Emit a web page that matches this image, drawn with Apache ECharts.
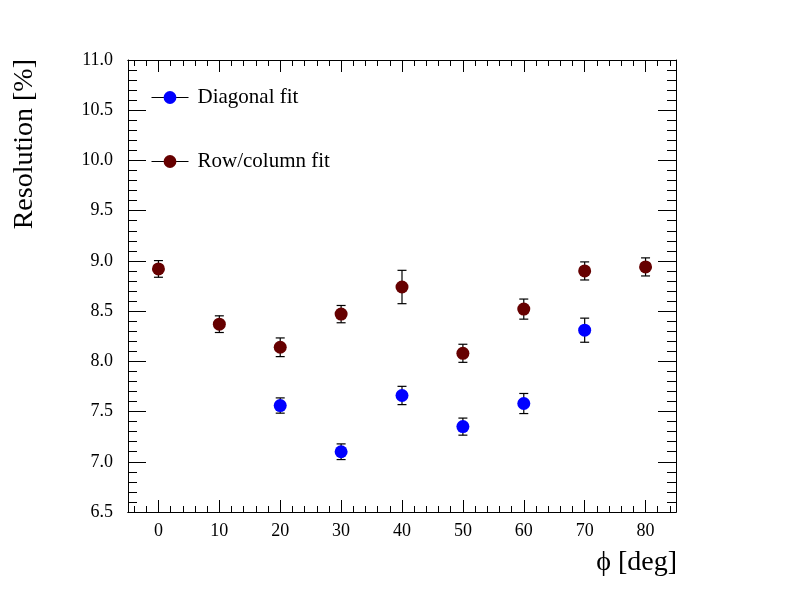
<!DOCTYPE html>
<html>
<head>
<meta charset="utf-8">
<script src="https://cdn.jsdelivr.net/npm/echarts@6/dist/echarts.min.js"></script>
<style>
html,body{margin:0;padding:0;background:#fff;}
#chart{width:796px;height:602px;}
</style>
</head>
<body>
<div id="chart"></div>
<script>
// Data
const phiDiagonal = [20, 30, 40, 50, 60, 70];
const diagonalValues = [7.56, 7.10, 7.66, 7.35, 7.58, 8.31];
const diagonalErrors = [0.076, 0.078, 0.091, 0.085, 0.10, 0.12];

const phiRowColumn = [0, 10, 20, 30, 40, 50, 60, 70, 80];
const rowColumnValues = [8.92, 8.37, 8.14, 8.47, 8.74, 8.08, 8.52, 8.90, 8.94];
const rowColumnErrors = [0.083, 0.083, 0.093, 0.086, 0.166, 0.09, 0.10, 0.09, 0.09];

const xMajorTicks = [0, 10, 20, 30, 40, 50, 60, 70, 80];
const xMinorTicks = [-4, -2, 2, 4, 6, 8, 12, 14, 16, 18, 22, 24, 26, 28, 32, 34, 36, 38,
  42, 44, 46, 48, 52, 54, 56, 58, 62, 64, 66, 68, 72, 74, 76, 78, 82, 84];

const seriesNames = ['Diagonal fit', 'Row/column fit'];
const xTitle = 'ϕ [deg]';
const yTitle = 'Resolution [%]';

const FONT = 'Liberation Serif';
const chart = echarts.init(document.getElementById('chart'), null, {renderer: 'canvas'});

function pairs(xs, ys) { return xs.map((x, i) => [x, ys[i]]); }
function errs(xs, ys, es) { return xs.map((x, i) => [x, ys[i] - es[i], ys[i] + es[i]]); }

function errorRender(params, api) {
  const x = api.value(0);
  const lo = api.coord([x, api.value(1)]);
  const hi = api.coord([x, api.value(2)]);
  const cw = 4.5;
  const st = {stroke: '#000', lineWidth: 1.2};
  return {
    type: 'group',
    children: [
      {type: 'line', shape: {x1: lo[0], y1: lo[1], x2: hi[0], y2: hi[1]}, style: st},
      {type: 'line', shape: {x1: lo[0] - cw, y1: lo[1], x2: lo[0] + cw, y2: lo[1]}, style: st},
      {type: 'line', shape: {x1: hi[0] - cw, y1: hi[1], x2: hi[0] + cw, y2: hi[1]}, style: st}
    ]
  };
}

const axisLineStyle = {show: true, onZero: false, lineStyle: {color: '#000', width: 1}};
function xAx(position, ticks, len, labels) {
  return {
    type: 'value', min: -5, max: 85, position: position,
    axisLine: axisLineStyle,
    splitLine: {show: false},
    axisTick: {show: true, inside: true, length: len, customValues: ticks, lineStyle: {color: '#000', width: 1}},
    axisLabel: labels ? {show: true, customValues: ticks, margin: 10, color: '#000', fontFamily: FONT, fontSize: 18} : {show: false, customValues: ticks}
  };
}
function yAx(position, labels) {
  return {
    type: 'value', min: 6.5, max: 11.0, interval: 0.5, position: position,
    axisLine: axisLineStyle,
    splitLine: {show: false},
    minorSplitLine: {show: false},
    axisTick: {show: true, inside: true, length: 18, lineStyle: {color: '#000', width: 1}},
    minorTick: {show: true, splitNumber: 5, length: 9, lineStyle: {color: '#000', width: 1}},
    axisLabel: labels ? {show: true, margin: 15, color: '#000', fontFamily: FONT, fontSize: 18,
      formatter: v => v.toFixed(1)} : {show: false}
  };
}

const option = {
  backgroundColor: '#fff',
  animation: false,
  grid: {left: 128, right: 120, top: 60, bottom: 90, containLabel: false},
  xAxis: [
    xAx('bottom', xMajorTicks, 12, true),
    xAx('bottom', xMinorTicks, 6, false),
    xAx('top', xMajorTicks, 12, false),
    xAx('top', xMinorTicks, 6, false)
  ],
  yAxis: [yAx('left', true), yAx('right', false)],
  legend: {
    orient: 'vertical', left: 146, top: 82,
    itemWidth: 37, itemHeight: 16, itemGap: 43,
    data: seriesNames,
    textStyle: {color: '#000', fontFamily: FONT, fontSize: 21, padding: [0, 0, 0, 4]},
    lineStyle: {color: '#000', width: 1, opacity: 1}
  },
  graphic: [
    {type: 'text', x: 677, y: 563, style: {text: xTitle, font: '28px "Liberation Serif"', fill: '#000', textAlign: 'right', textVerticalAlign: 'middle'}},
    {type: 'text', x: 24.5, y: 59, rotation: Math.PI / 2, style: {text: yTitle, font: '28px "Liberation Serif"', fill: '#000', textAlign: 'right', textVerticalAlign: 'middle'}}
  ],
  series: [
    {type: 'custom', xAxisIndex: 0, yAxisIndex: 0, renderItem: errorRender, data: errs(phiDiagonal, diagonalValues, diagonalErrors), z: 1, silent: true},
    {type: 'custom', xAxisIndex: 0, yAxisIndex: 0, renderItem: errorRender, data: errs(phiRowColumn, rowColumnValues, rowColumnErrors), z: 1, silent: true},
    {name: seriesNames[0], type: 'line', xAxisIndex: 0, yAxisIndex: 0, data: pairs(phiDiagonal, diagonalValues),
      symbol: 'circle', symbolSize: 13, itemStyle: {color: '#0000ff'}, lineStyle: {width: 0, opacity: 0}, z: 3},
    {name: seriesNames[1], type: 'line', xAxisIndex: 0, yAxisIndex: 0, data: pairs(phiRowColumn, rowColumnValues),
      symbol: 'circle', symbolSize: 13, itemStyle: {color: '#660000'}, lineStyle: {width: 0, opacity: 0}, z: 3}
  ]
};
chart.setOption(option);
</script>
</body>
</html>
